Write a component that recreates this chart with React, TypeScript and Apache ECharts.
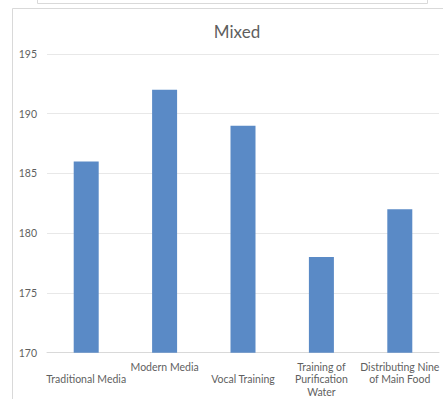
import React, { useEffect, useRef } from "react";
import * as echarts from "echarts";

// Chart content
const titleText = "Mixed";
const categories = [
  "Traditional Media",
  "Modern Media",
  "Vocal Training",
  "Training of\nPurification\nWater",
  "Distributing Nine\nof Main Food",
];
const values = [186, 192, 189, 178, 182];
const yMin = 170;
const yMax = 195;
const yStep = 5;

// Some category labels sit one text row lower under the axis
const labelRowOffset = [1, 0, 1, 0, 0];

const TEXT = "#5f5f5f";
const BORDER = "#d9d9d9";
const GRID = "#e8e8e8";
const BAR = "#5a8ac6";
const FONT = "Lato, 'Open Sans', sans-serif";

export default function App() {
  const ref = useRef<HTMLDivElement>(null);

  useEffect(() => {
    if (!ref.current) return;
    const chart = echarts.init(ref.current, undefined, { renderer: "svg" });
    chart.setOption({
      animation: false,
      backgroundColor: "#ffffff",
      title: {
        text: titleText,
        left: 232,
        top: 18,
        textAlign: "center",
        textStyle: {
          color: TEXT,
          fontFamily: FONT,
          fontSize: 17,
          fontWeight: "normal",
        },
      },
      graphic: [
        {
          type: "rect",
          shape: { x: 37.5, y: -10, width: 390, height: 13.5 },
          style: { fill: "#ffffff", stroke: BORDER, lineWidth: 1 },
          silent: true,
        },
        {
          type: "rect",
          shape: { x: 12.5, y: 8.5, width: 450, height: 420 },
          style: { fill: "none", stroke: BORDER, lineWidth: 1 },
          silent: true,
        },
      ],
      grid: { left: 47, right: 4, top: 54, bottom: 46.3 },
      xAxis: {
        type: "category",
        data: categories,
        axisLine: { lineStyle: { color: BORDER, width: 1 } },
        axisTick: { show: false },
        axisLabel: {
          interval: 0,
          margin: 8,
          color: TEXT,
          fontFamily: FONT,
          fontSize: 10.5,
          lineHeight: 12.5,
          formatter: (value: string, index: number) =>
            (labelRowOffset[index] ? "\n" : "") + value,
        },
      },
      yAxis: {
        type: "value",
        min: yMin,
        max: yMax,
        interval: yStep,
        axisLine: { show: false },
        axisTick: { show: false },
        splitLine: { lineStyle: { color: GRID, width: 1 } },
        axisLabel: {
          margin: 10,
          color: TEXT,
          fontFamily: FONT,
          fontSize: 10.5,
        },
      },
      series: [
        {
          type: "bar",
          data: values,
          barWidth: 25,
          itemStyle: { color: BAR },
        },
      ],
    });
    return () => chart.dispose();
  }, []);

  return (
    <div
      ref={ref}
      style={{ position: "fixed", left: 0, top: 0, width: 443, height: 399 }}
    />
  );
}
